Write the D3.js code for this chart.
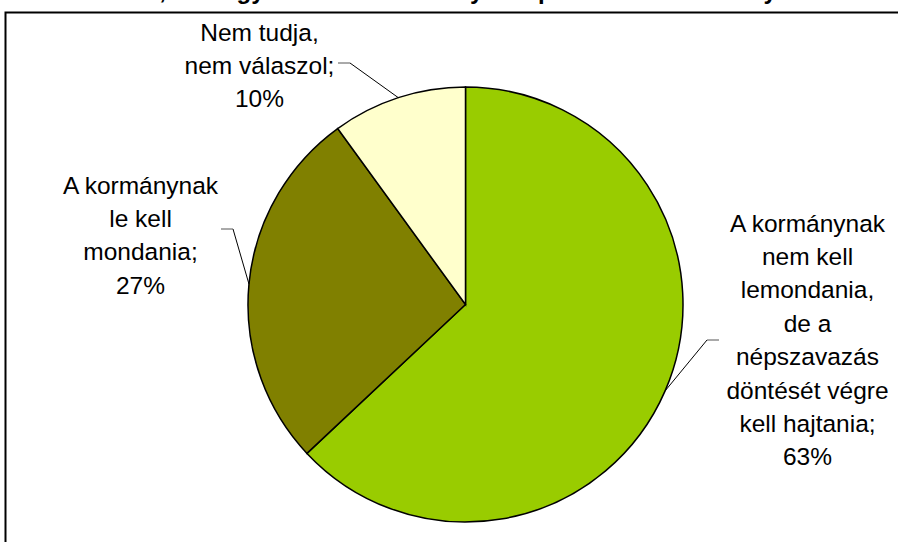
<!DOCTYPE html>
<html>
<head>
<meta charset="utf-8">
<script src="https://d3js.org/d3.v7.min.js"></script>
<style>
  body { margin: 0; background: #fff; }
  text { font-family: "Liberation Sans", Arial, sans-serif; }
</style>
</head>
<body>
<div id="chart"></div>
<script>
// data
var categories = [
  "A kormánynak nem kell lemondania, de a népszavazás döntését végre kell hajtania",
  "A kormánynak le kell mondania",
  "Nem tudja, nem válaszol"
];
var values = [63, 27, 10];
var labelLines = [
  ["A kormánynak", "nem kell", "lemondania,", "de a", "népszavazás", "döntését végre", "kell hajtania;"],
  ["A kormánynak", "le kell", "mondania;"],
  ["Nem tudja,", "nem válaszol;"]
];
var colors = ["#99cc00", "#808000", "#ffffcc"];
var title = "Ön szerint, mit tegyen most a kormány a népszavazás eredménye után?";

var width = 898, height = 542;
var cx = 465.5, cy = 304.5, radius = 217.5;

var svg = d3.select("#chart").append("svg")
  .attr("width", width)
  .attr("height", height);

// chart frame (runs off the right and bottom edges)
svg.append("rect")
  .attr("x", 5.5).attr("y", 12.5)
  .attr("width", 910).attr("height", 560)
  .attr("fill", "none")
  .attr("stroke", "#000")
  .attr("stroke-width", 2);

// title, mostly clipped at the top
svg.append("text")
  .attr("x", 452).attr("y", -1.5)
  .attr("text-anchor", "middle")
  .style("font-size", "24px")
  .style("font-weight", "bold")
  .text(title);

var data = categories.map(function (c, i) {
  return { name: c, value: values[i], lines: labelLines[i], color: colors[i] };
});

var pie = d3.pie().sort(null).value(function (d) { return d.value; });
var arcs = pie(data);
var arc = d3.arc().innerRadius(0).outerRadius(radius);

var g = svg.append("g").attr("transform", "translate(" + cx + "," + cy + ")");

g.selectAll("path.slice")
  .data(arcs)
  .enter()
  .append("path")
  .attr("class", "slice")
  .attr("d", arc)
  .attr("fill", function (d) { return d.data.color; })
  .attr("stroke", "#000")
  .attr("stroke-width", 1.5);

// label placement (like the manually placed excel labels)
// elbow = where the short horizontal tick meets the leader, side = which way the tick goes
var labelLayout = [
  { elbow: [241.5, 35.5], side: 1, textX: 342, textY: -73 },
  { elbow: [-232.5, -75.5], side: -1, textX: -325, textY: -111 },
  { elbow: [-115.5, -241.5], side: -1, textX: -206, textY: -264 }
];
var lineH = 33.4;

arcs.forEach(function (d, i) {
  var mid = (d.startAngle + d.endAngle) / 2;
  var edge = [Math.sin(mid) * radius, -Math.cos(mid) * radius];
  var L = labelLayout[i];
  var tickEnd = [L.elbow[0] + L.side * 12, L.elbow[1]];
  g.append("polyline")
    .attr("points", [edge, L.elbow].map(function (p) { return p.join(","); }).join(" "))
    .attr("fill", "none")
    .attr("stroke", "#000")
    .attr("stroke-width", 1);
  g.append("line")
    .attr("x1", L.elbow[0]).attr("y1", L.elbow[1])
    .attr("x2", tickEnd[0]).attr("y2", tickEnd[1])
    .attr("stroke", "#555")
    .attr("stroke-width", 1);

  var t = g.append("text")
    .attr("text-anchor", "middle")
    .style("font-size", "24.5px")
    .attr("fill", "#000");
  var lines = d.data.lines.concat([d.data.value + "%"]);
  lines.forEach(function (s, k) {
    t.append("tspan")
      .attr("x", L.textX)
      .attr("y", L.textY + k * lineH)
      .text(s);
  });
});
</script>
</body>
</html>
